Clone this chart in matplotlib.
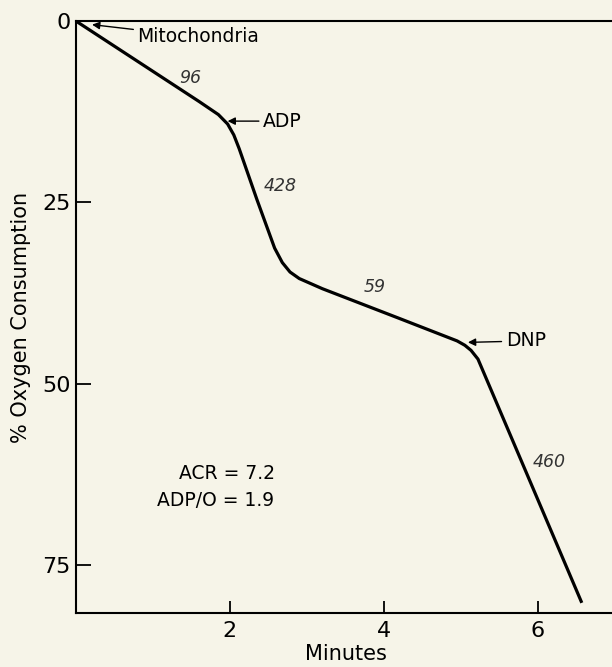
import numpy as np
import matplotlib.pyplot as plt

# oxygen trace (minutes, % consumed)
minutes = [0.0, 0.8, 1.6, 1.85, 1.97, 2.05, 2.12, 2.35, 2.58, 2.68, 2.78, 2.9, 3.05, 3.2,
           4.2, 4.95, 5.05, 5.13, 5.22, 6.56]
oxygen = [0.0, 5.55, 11.1, 12.9, 14.2, 15.7, 17.6, 24.6, 31.3, 33.3, 34.6, 35.5, 36.2, 36.9,
          41.0, 44.1, 44.7, 45.4, 46.6, 80.0]

rate_labels = ['96', '428', '59', '460']
rate_x = [1.48, 2.65, 3.88, 6.14]
rate_y = [7.8, 22.8, 36.7, 60.8]

events = ['Mitochondria', 'ADP', 'DNP']
event_x = [0.21, 1.97, 5.09]
event_y = [0.5, 13.8, 44.3]
event_text_x = [0.8, 2.43, 5.58]
event_text_y = [2.2, 13.8, 44.1]

xticks = [2, 4, 6]
yticks = [0, 25, 50, 75]

bg = '#f6f4e8'
fig = plt.figure(figsize=(6.12, 6.67), dpi=100, facecolor=bg)
ax = fig.add_axes([0.124, 0.081, 0.881, 0.8875], facecolor=bg)

ax.plot(minutes, oxygen, color='black', lw=2.3, solid_joinstyle='round')

for lab, x, y in zip(rate_labels, rate_x, rate_y):
    ax.text(x, y, lab, fontsize=12.5, style='italic', color='#333333',
            ha='center', va='center')

for lab, x, y, tx, ty in zip(events, event_x, event_y, event_text_x, event_text_y):
    ax.annotate(lab, xy=(x, y), xytext=(tx, ty), fontsize=13.5, va='center', ha='left',
                arrowprops=dict(arrowstyle='-|>', color='black', lw=1.0,
                                mutation_scale=11, shrinkA=1, shrinkB=0))

ax.text(2.58, 62.4, 'ACR = 7.2', fontsize=13.5, ha='right', va='center')
ax.text(2.58, 66.1, 'ADP/O = 1.9', fontsize=13.5, ha='right', va='center')

ax.set_xlim(0, 7)
ax.set_ylim(81.6, 0)
ax.set_xticks(xticks)
ax.set_yticks(yticks)
ax.tick_params(axis='x', direction='in', length=9, width=1.3, labelsize=16, pad=6)
ax.tick_params(axis='y', direction='in', length=11, width=1.3, labelsize=16, pad=4)
ax.spines['right'].set_visible(False)
for s in ['left', 'top', 'bottom']:
    ax.spines[s].set_linewidth(1.5)

ax.set_xlabel('Minutes', fontsize=15, labelpad=2)
ax.set_ylabel('% Oxygen Consumption', fontsize=15, labelpad=8)

fig.savefig('out.png', dpi=100, facecolor=bg)
